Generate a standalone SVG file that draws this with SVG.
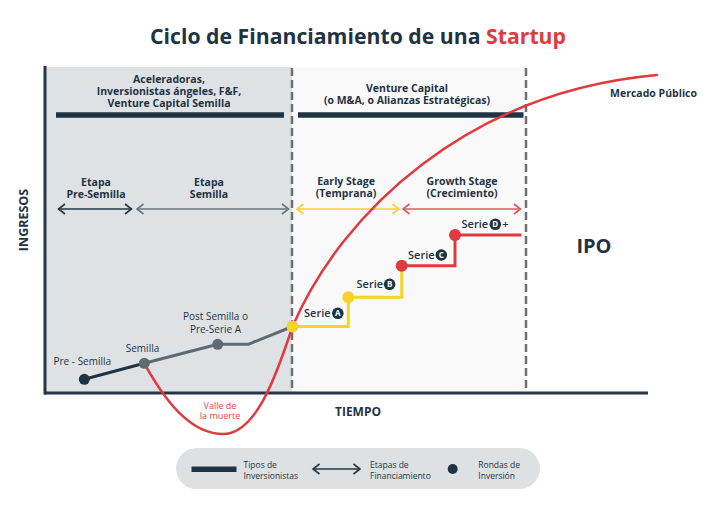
<svg xmlns="http://www.w3.org/2000/svg" width="715" height="515" viewBox="0 0 715 515">
<style>
text{font-family:"Open Sans","Liberation Sans",sans-serif;fill:#1f3343}
.b{font-weight:700;font-size:10.5px}
.r{font-weight:400;font-size:10px}
.s{font-weight:600;font-size:11px}
.lg{font-weight:400;font-size:8.5px}
.m{text-anchor:middle}
.dash{stroke:#707070;stroke-width:2.5;stroke-dasharray:8 4;fill:none}
.bar{stroke:#1f3343;stroke-width:5.5}
.ltr{fill:#fff;font-weight:700;font-size:8px;text-anchor:middle}
</style>
<defs>
<marker id="mDark" viewBox="-8 -6 10 12" refX="0" refY="0" markerWidth="10" markerHeight="12" markerUnits="userSpaceOnUse" orient="auto-start-reverse"><path d="M-6.5,-5 L0,0 L-6.5,5" fill="none" stroke="#253746" stroke-width="1.6"/></marker>
<marker id="mGray" viewBox="-8 -6 10 12" refX="0" refY="0" markerWidth="10" markerHeight="12" markerUnits="userSpaceOnUse" orient="auto-start-reverse"><path d="M-6.5,-5 L0,0 L-6.5,5" fill="none" stroke="#6b777f" stroke-width="1.6"/></marker>
<marker id="mYel" viewBox="-8 -6 10 12" refX="0" refY="0" markerWidth="10" markerHeight="12" markerUnits="userSpaceOnUse" orient="auto-start-reverse"><path d="M-6.5,-5 L0,0 L-6.5,5" fill="none" stroke="#f5d328" stroke-width="1.6"/></marker>
<marker id="mRed" viewBox="-8 -6 10 12" refX="0" refY="0" markerWidth="10" markerHeight="12" markerUnits="userSpaceOnUse" orient="auto-start-reverse"><path d="M-6.5,-5 L0,0 L-6.5,5" fill="none" stroke="#e0575b" stroke-width="1.6"/></marker>
</defs>
<rect width="715" height="515" fill="#ffffff"/>
<text x="358" y="44" class="m" style="font-weight:700;font-size:21px" textLength="416" lengthAdjust="spacingAndGlyphs">Ciclo de Financiamiento de una <tspan style="fill:#e03a3e">Startup</tspan></text>

<g id="panels">
<rect x="45" y="67" width="247" height="326" fill="#dfe2e5"/>
<rect x="292" y="67" width="233" height="326" fill="#f9f9f9"/>
</g>

<g id="axes">
<line x1="45" y1="66" x2="45" y2="394.5" stroke="#253746" stroke-width="3"/>
<line x1="44" y1="393" x2="648" y2="393" stroke="#253746" stroke-width="3"/>
<text transform="translate(28,220) rotate(-90)" class="m" style="font-weight:700;font-size:12.5px">INGRESOS</text>
<text x="358" y="416" class="m" style="font-weight:700;font-size:12px">TIEMPO</text>
<line class="dash" x1="292" y1="68" x2="292" y2="392"/>
<line class="dash" x1="526" y1="68" x2="526" y2="392"/>
</g>

<g id="inversores-semilla">
<line class="bar" x1="56" y1="115" x2="284" y2="115"/>
<text class="b m" x="169" y="83">Aceleradoras,</text>
<text class="b m" x="169" y="95">Inversionistas ángeles, F&amp;F,</text>
<text class="b m" x="169" y="107">Venture Capital Semilla</text>
</g>
<g id="inversores-vc">
<line class="bar" x1="298" y1="115" x2="523.5" y2="115"/>
<text class="b m" x="407" y="91.5">Venture Capital</text>
<text class="b m" x="407" y="103.5">(o M&amp;A, o Alianzas Estratégicas)</text>
</g>
<g id="mercado">
<text class="b" x="697" y="97" style="text-anchor:end">Mercado Público</text>
</g>
<g id="ipo">
<text x="594" y="252.5" class="m" style="font-weight:700;font-size:20px">IPO</text>
</g>

<g id="etapa-presemilla">
<text class="b m" x="96" y="186">Etapa</text>
<text class="b m" x="96" y="198">Pre-Semilla</text>
</g>
<g id="etapa-semilla">
<text class="b m" x="209" y="186">Etapa</text>
<text class="b m" x="209" y="198">Semilla</text>
</g>
<g id="etapa-early">
<text class="b m" x="346" y="185">Early Stage</text>
<text class="b m" x="346" y="197">(Temprana)</text>
</g>
<g id="etapa-growth">
<text class="b m" x="462" y="185">Growth Stage</text>
<text class="b m" x="462" y="197">(Crecimiento)</text>
</g>

<g id="connectors" fill="none">
<line x1="58.5" y1="209" x2="131.5" y2="209" stroke="#253746" stroke-width="1.6" marker-start="url(#mDark)" marker-end="url(#mDark)"/>
<line x1="137" y1="209" x2="288.5" y2="209" stroke="#6b777f" stroke-width="1.6" marker-start="url(#mGray)" marker-end="url(#mGray)"/>
<line x1="297" y1="209" x2="399" y2="209" stroke="#f5d328" stroke-width="1.6" marker-start="url(#mYel)" marker-end="url(#mYel)"/>
<line x1="403" y1="209" x2="520.5" y2="209" stroke="#e0575b" stroke-width="1.6" marker-start="url(#mRed)" marker-end="url(#mRed)"/>
<polyline points="84.3,379.3 144.3,363.3" stroke="#1f3343" stroke-width="3"/>
<polyline points="144.3,363.3 217.7,344.3 248.3,344.3 292.5,326.5" stroke="#5d6a72" stroke-width="3"/>
<polyline points="292.5,326.5 348.3,326.5 348.3,297.3 401.7,297.3 401.7,265.7" stroke="#f5d328" stroke-width="3"/>
<polyline points="401.7,265.7 455,265.7 455,235 521.5,235" stroke="#e03a3e" stroke-width="3"/>
<path d="M144.3,363.3 C170,410 195,434 223,434 C255,434 275,380 292.5,326.5 C342,212 468,92 657,75" stroke="#e03a3e" stroke-width="2.5" stroke-linecap="round"/>
</g>

<g id="ronda-presemilla">
<circle cx="84.3" cy="379.3" r="5.5" fill="#1f3343"/>
<text class="r" x="53.5" y="365">Pre - Semilla</text>
</g>
<g id="ronda-semilla">
<circle cx="144.3" cy="363.3" r="5.5" fill="#5d6a72"/>
<text class="r m" x="142.5" y="351.5">Semilla</text>
</g>
<g id="ronda-postsemilla">
<circle cx="217.7" cy="344.3" r="5.5" fill="#5d6a72"/>
<text class="r m" x="215.5" y="320">Post Semilla o</text>
<text class="r m" x="215.5" y="332.5">Pre-Serie A</text>
</g>
<g id="valle">
<text x="220" y="408.5" class="m" style="font-size:9px;fill:#e0464b">Valle de</text>
<text x="220" y="419" class="m" style="font-size:9px;fill:#e0464b">la muerte</text>
</g>
<g id="serie-a">
<circle cx="292.5" cy="326.5" r="6" fill="#f5d328"/>
<text class="s" x="304" y="317">Serie</text>
<circle cx="337.8" cy="313.3" r="5.8" fill="#1f3343"/>
<text class="ltr" x="337.8" y="316.2">A</text>
</g>
<g id="serie-b">
<circle cx="348.3" cy="297.3" r="6" fill="#f5d328"/>
<text class="s" x="356.5" y="288">Serie</text>
<circle cx="389.6" cy="284.3" r="5.8" fill="#1f3343"/>
<text class="ltr" x="389.6" y="287.2">B</text>
</g>
<g id="serie-c">
<circle cx="401.7" cy="265.7" r="6" fill="#e03a3e"/>
<text class="s" x="408" y="259">Serie</text>
<circle cx="441.3" cy="255" r="5.8" fill="#1f3343"/>
<text class="ltr" x="441.3" y="257.9">C</text>
</g>
<g id="serie-d">
<circle cx="455" cy="235" r="6" fill="#e03a3e"/>
<text class="s" x="461.5" y="228">Serie</text>
<circle cx="495.3" cy="224.3" r="5.8" fill="#1f3343"/>
<text class="ltr" x="495.3" y="227.2">D</text>
<text class="s" x="505.5" y="228" style="text-anchor:middle">+</text>
</g>

<g id="legend">
<rect x="176" y="448" width="364" height="41" rx="20.5" fill="#dde1e4"/>
<line x1="191.5" y1="469.3" x2="236.5" y2="469.3" stroke="#1f3343" stroke-width="5.5"/>
<text class="lg" x="243.5" y="467.8">Tipos de</text>
<text class="lg" x="243.5" y="478.5">Inversionistas</text>
<line x1="313" y1="469" x2="360" y2="469" stroke="#253746" stroke-width="1.4" marker-start="url(#mDark)" marker-end="url(#mDark)"/>
<text class="lg" x="370" y="467.8">Etapas de</text>
<text class="lg" x="370" y="478.5">Financiamiento</text>
<circle cx="452.7" cy="469" r="5" fill="#1f3343"/>
<text class="lg" x="478.3" y="467.8">Rondas de</text>
<text class="lg" x="478.3" y="478.5">Inversión</text>
</g>
</svg>
